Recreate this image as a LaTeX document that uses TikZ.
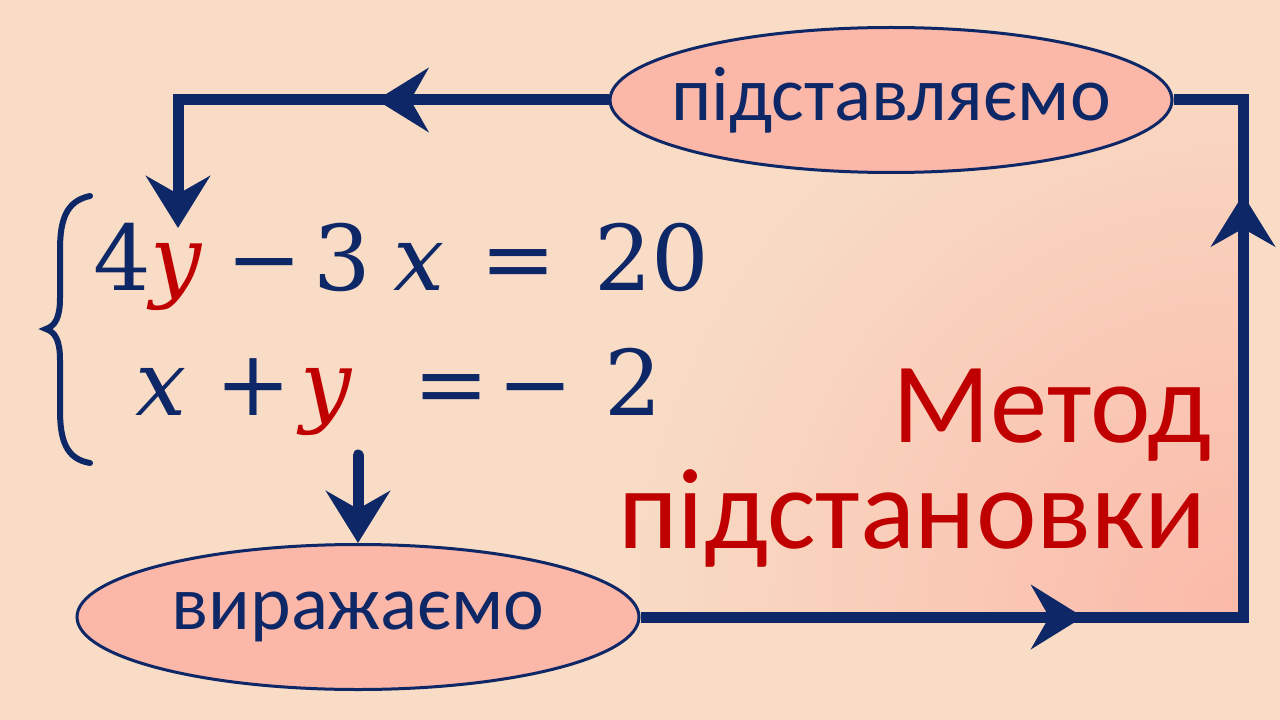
\RequirePackage{fix-cm}
\documentclass[tikz,border=0pt]{standalone}
\usepackage{fontspec}
\setmainfont{Carlito}
\newfontfamily\eqfont{DejaVu Serif}
\usetikzlibrary{arrows.meta,decorations.markings,shapes.geometric}
\definecolor{bgc}{HTML}{F8DCC5}
\definecolor{glow}{HTML}{FBB9A9}
\definecolor{navy}{HTML}{0E2767}
\definecolor{ovalfill}{HTML}{FBB7A8}
\definecolor{redt}{HTML}{C00000}
\tikzset{
  bigtip/.tip={Stealth[length=39pt,width=48pt,inset=13.5pt]},
  conn/.style={draw=navy,line width=8.25pt,line join=miter},
  oval/.style={ellipse,draw=navy,line width=2.25pt,fill=ovalfill,
    minimum width=421.5pt,minimum height=108.75pt,inner sep=0pt},
  ovtext/.style={inner sep=0pt,text=navy,font=\fontsize{58}{60}\selectfont},
  eq/.style={anchor=base west,inner sep=0pt,text=navy,font=\eqfont\fontsize{68}{72}\selectfont},
  eqi/.style={eq,font=\eqfont\itshape\fontsize{68}{72}\selectfont},
  eqr/.style={eqi,text=redt},
  title/.style={anchor=base east,inner sep=0pt,text=redt,font=\fontsize{86}{90}\selectfont},
}
\begin{document}
\begin{tikzpicture}[x=0.75pt,y=-0.75pt]
\useasboundingbox (0,0) rectangle (1280,720);
\fill[bgc] (0,0) rectangle (1280,720);
\begin{scope}
\clip (178,100) rectangle (1243,617);
\shade[inner color=glow,outer color=bgc] (1243,617) circle (620);
\end{scope}

% ovals
\node[oval] (p1) at (891,100) {};
\node[ovtext] (p1t) at (p1.center) {підставляємо};
\node[oval] (p2) at (358,617) {};
\node[ovtext] (p2t) at (p2.center) {виражаємо};

% title
\node[title] (t1) at (1212,442) {Метод};
\node[title] (t2) at (1207,548) {підстановки};

% equations
\node[eq]  (a1) at (93,290)  {4};
\node[eqr] (a2) at (150,290) {y};
\node[eq]  (a3) at (226,290) {−};
\node[eq]  (a4) at (313,290) {3};
\node[eqi] (a5) at (393,290) {x};
\node[eq]  (a6) at (480,290) {=};
\node[eq]  (a7) at (594,290) {20};
\node[eqi] (b1) at (135,415) {x};
\node[eq]  (b2) at (215,415) {+};
\node[eqr] (b3) at (300,415) {y};
\node[eq]  (b4) at (413,415) {=};
\node[eq]  (b5) at (497,415) {−};
\node[eq]  (b6) at (604,415) {2};

% brace
\draw[navy,line width=4.5pt,line cap=round]
  (90,196) .. controls (66,201) and (60,220) .. (60,250) -- (60,298)
  .. controls (60,318) and (55,326) .. (46,329)
  .. controls (55,332) and (60,340) .. (60,360) -- (60,410)
  .. controls (60,440) and (66,459) .. (90,463);

% connectors
\coordinate (c1) at (178,100);
\coordinate (e1) at (178,228);
\coordinate (c2) at (1243,617);
\coordinate (c3) at (1243,100);
\coordinate (d0) at (358,455);
\draw[conn,-bigtip,postaction={decorate},
  decoration={markings,mark=at position 174pt with {\arrow{bigtip}}}]
  (p1.west) -- (c1) -- (e1);
\draw[conn,postaction={decorate},
  decoration={markings,mark=at position 332pt with {\arrow{bigtip}},
    mark=at position 768.75pt with {\arrow{bigtip}}}]
  (p2.east) -- (c2) -- (c3) -- (p1.east);
\draw[conn,line cap=round,-bigtip] (d0) -- (p2.north);
\end{tikzpicture}
\end{document}
